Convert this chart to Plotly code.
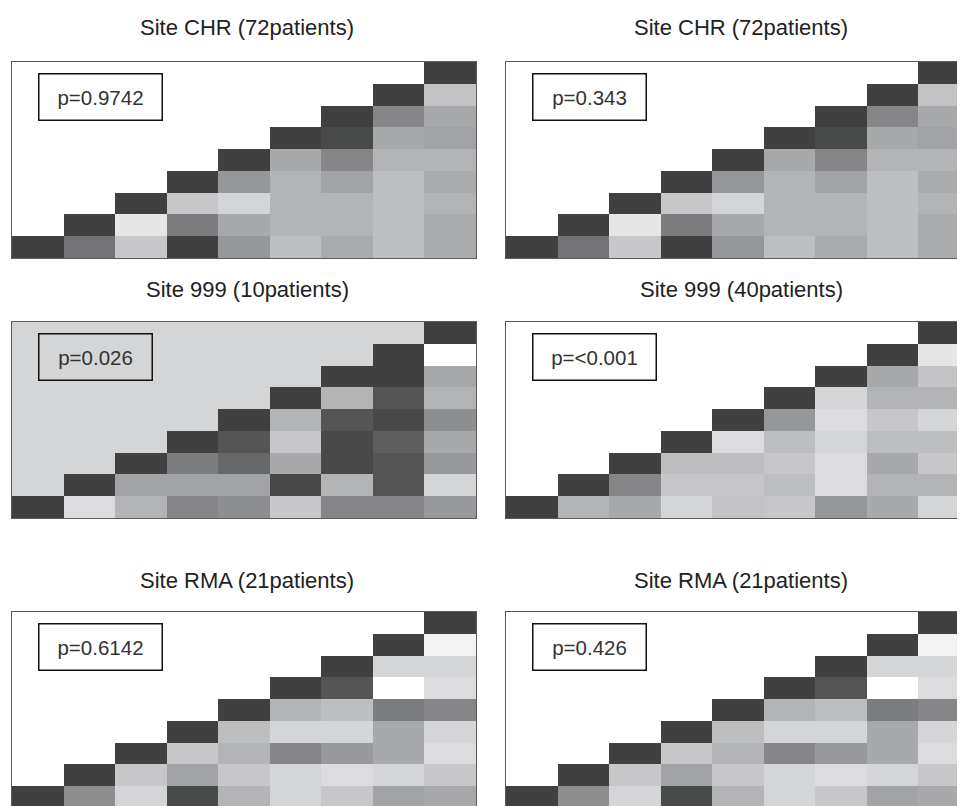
import plotly.graph_objects as go

N = 9
OFF = 8                      # page body margin
W, H = 965 - OFF, 806 - OFF  # figure fills the visible viewport exactly

titles = ["Site CHR (72patients)", "Site CHR (72patients)",
          "Site 999 (10patients)", "Site 999 (40patients)",
          "Site RMA (21patients)", "Site RMA (21patients)"]
p_labels = ["p=0.9742", "p=0.343", "p=0.026", "p=<0.001", "p=0.6142", "p=0.426"]

# Each list: row r (from the bottom) holds the values of columns r..8 (diagonal first)
chr_a = [
    [1.00, 0.73, 0.29, 1.00, 0.54, 0.34, 0.44, 0.34, 0.44],
    [1.00, 0.13, 0.68, 0.45, 0.39, 0.39, 0.34, 0.44],
    [1.00, 0.29, 0.22, 0.39, 0.39, 0.34, 0.39],
    [1.00, 0.54, 0.39, 0.48, 0.34, 0.44],
    [1.00, 0.45, 0.63, 0.39, 0.39],
    [1.00, 0.95, 0.45, 0.48],
    [1.00, 0.63, 0.45],
    [1.00, 0.31],
    [1.00],
]
chr_b = [
    [1.00, 0.73, 0.29, 1.00, 0.54, 0.34, 0.44, 0.34, 0.44],
    [1.00, 0.13, 0.68, 0.45, 0.39, 0.39, 0.34, 0.44],
    [1.00, 0.29, 0.22, 0.39, 0.39, 0.34, 0.39],
    [1.00, 0.54, 0.39, 0.48, 0.34, 0.44],
    [1.00, 0.45, 0.63, 0.39, 0.39],
    [1.00, 0.95, 0.45, 0.48],
    [1.00, 0.63, 0.45],
    [1.00, 0.31],
    [1.00],
]
s999_10 = [
    [1.00, 0.18, 0.39, 0.63, 0.59, 0.29, 0.63, 0.63, 0.53],
    [1.00, 0.48, 0.48, 0.48, 0.96, 0.39, 0.89, 0.22],
    [1.00, 0.68, 0.79, 0.45, 0.96, 0.89, 0.53],
    [1.00, 0.89, 0.29, 0.96, 0.84, 0.45],
    [1.00, 0.39, 0.89, 0.96, 0.59],
    [1.00, 0.39, 0.89, 0.39],
    [1.00, 1.00, 0.45],
    [1.00, 0.00],
    [1.00],
]
s999_40 = [
    [1.00, 0.39, 0.45, 0.22, 0.31, 0.29, 0.54, 0.45, 0.22],
    [1.00, 0.63, 0.29, 0.29, 0.34, 0.18, 0.39, 0.39],
    [1.00, 0.34, 0.34, 0.29, 0.18, 0.45, 0.29],
    [1.00, 0.18, 0.34, 0.22, 0.34, 0.34],
    [1.00, 0.54, 0.18, 0.29, 0.22],
    [1.00, 0.22, 0.39, 0.39],
    [1.00, 0.45, 0.31],
    [1.00, 0.13],
    [1.00],
]
rma_a = [
    [1.00, 0.59, 0.22, 0.95, 0.39, 0.22, 0.29, 0.48, 0.45],
    [1.00, 0.29, 0.48, 0.29, 0.22, 0.18, 0.22, 0.29],
    [1.00, 0.29, 0.39, 0.63, 0.53, 0.45, 0.18],
    [1.00, 0.34, 0.22, 0.22, 0.45, 0.22],
    [1.00, 0.39, 0.34, 0.68, 0.63],
    [1.00, 0.89, 0.00, 0.18],
    [1.00, 0.22, 0.22],
    [1.00, 0.06],
    [1.00],
]
rma_b = [
    [1.00, 0.59, 0.22, 0.95, 0.39, 0.22, 0.29, 0.48, 0.45],
    [1.00, 0.29, 0.48, 0.29, 0.22, 0.18, 0.22, 0.29],
    [1.00, 0.29, 0.39, 0.63, 0.53, 0.45, 0.18],
    [1.00, 0.34, 0.22, 0.22, 0.45, 0.22],
    [1.00, 0.39, 0.34, 0.68, 0.63],
    [1.00, 0.89, 0.00, 0.18],
    [1.00, 0.22, 0.22],
    [1.00, 0.06],
    [1.00],
]
panels = [chr_a, chr_b, s999_10, s999_40, rma_a, rma_b]


def to_matrix(rows):
    z = []
    for r in range(N):
        line = [None] * N
        for k, v in enumerate(rows[r]):
            line[r + k] = v
        z.append(line)
    return z


colorscale = [[0.0, "rgb(255,255,255)"], [0.5, "rgb(158,159,162)"], [1.0, "rgb(64,64,64)"]]

cell_w = 51.6
cell_h = 21.78
panel_w = N * cell_w
panel_h = N * cell_h
col_left = [12 - OFF, 506 - OFF]
row_top = [62 - OFF, 322 - OFF, 612 - OFF]
title_y = [27 - OFF, 290 - OFF, 580 - OFF]

fig = go.Figure()
annotations = []
shapes = []
line_col = "#5a5a5a"

for i, rows in enumerate(panels):
    ri, ci = divmod(i, 2)
    ax = "" if i == 0 else str(i + 1)
    xl = col_left[ci]
    xr = min(xl + panel_w, W)
    yt = row_top[ri]
    yb = min(yt + panel_h, H)
    x_hi = -0.5 + (xr - xl) / cell_w
    y_lo = 8.5 - (yb - yt) / cell_h
    right_clipped = ci == 1
    bottom_clipped = ri == 2
    fig.add_trace(go.Heatmap(
        z=to_matrix(rows), x=list(range(N)), y=list(range(N)),
        colorscale=colorscale, zmin=0, zmax=1, showscale=False,
        xaxis="x" + ax, yaxis="y" + ax, hoverinfo="skip",
    ))
    fig.update_layout(**{
        "xaxis" + ax: dict(domain=[xl / W, xr / W], range=[-0.5, x_hi],
                           showticklabels=False, ticks="", showgrid=False, zeroline=False,
                           showline=True, mirror=not bottom_clipped,
                           side="top" if bottom_clipped else "bottom",
                           linecolor=line_col, linewidth=1,
                           anchor="y" + ax, fixedrange=True),
        "yaxis" + ax: dict(domain=[1 - yb / H, 1 - yt / H], range=[y_lo, 8.5],
                           showticklabels=False, ticks="", showgrid=False, zeroline=False,
                           showline=True, mirror=not right_clipped,
                           linecolor=line_col, linewidth=1,
                           anchor="x" + ax, fixedrange=True),
    })
    if i == 2:
        shapes.append(dict(type="rect", xref="x3 domain", yref="y3 domain",
                           x0=0, x1=1, y0=0, y1=1, fillcolor="rgb(212,213,215)",
                           line=dict(width=0), layer="below"))
    # panel title
    annotations.append(dict(text=titles[i], xref="paper", yref="paper",
                            x=(xl + panel_w / 2 + 3) / W, y=1 - title_y[ri] / H,
                            xanchor="center", yanchor="middle", showarrow=False,
                            font=dict(family="Liberation Sans, Arial", size=22, color="#222222")))
    # p-value box
    lab = p_labels[i]
    annotations.append(dict(text=lab, xref="x" + ax + " domain", yref="y" + ax + " domain",
                            x=26 / (xr - xl), y=1 - 11 / (yb - yt),
                            xanchor="left", yanchor="top", showarrow=False,
                            width=10 * len(lab) + 42, height=45, align="center",
                            bordercolor="#111111", borderwidth=1.5, borderpad=0,
                            bgcolor="rgba(0,0,0,0)",
                            font=dict(family="Liberation Sans, Arial", size=20.5, color="#333333")))

fig.update_layout(width=W, height=H, margin=dict(l=0, r=0, t=0, b=0),
                  paper_bgcolor="white", plot_bgcolor="white",
                  annotations=annotations, shapes=shapes, showlegend=False)

fig.write_html("out.html", config={"displayModeBar": False})
